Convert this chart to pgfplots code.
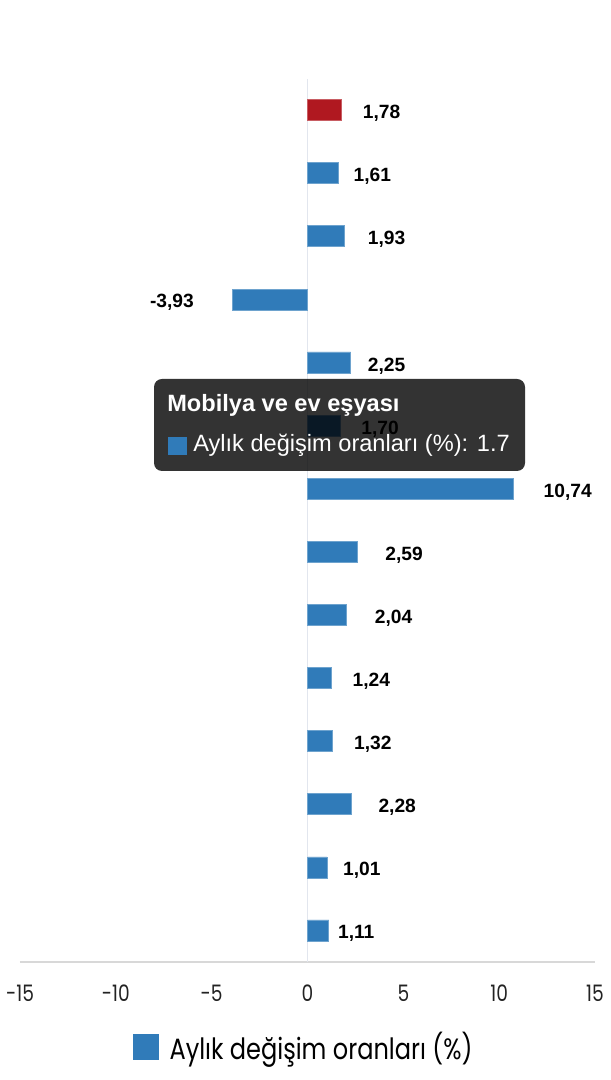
\documentclass[border=0pt]{standalone}
\usepackage{pgfplots}
\pgfplotsset{compat=1.18}
\usepackage{pgfplotstable}
\usepackage{fontspec}
\setmainfont{Liberation Sans}
\newfontfamily\axisfont[FakeStretch=0.82]{Poppins}

\definecolor{barblue}{RGB}{48,123,185}
\definecolor{barred}{RGB}{176,24,32}
\definecolor{zeroline}{RGB}{226,230,238}
\definecolor{axisgray}{RGB}{216,216,216}
\definecolor{ticktext}{RGB}{34,34,34}

% y = row position (13 at top), x = value, gap = label distance from bar end (px)
\pgfplotstableread{
y  x      gap
12 1.61   15
11 1.93   23
9  2.25   17
8  1.70   21
7  10.74  30
6  2.59   28
5  2.04   28
4  1.24   21
3  1.32   21
2  2.28   27
1  1.01   16
0  1.11   9
}\bluebars
\pgfplotstableread{
y  x     gap
13 1.78  21
}\redbar
\pgfplotstableread{
y  x      gap
10 -3.93  38
}\negbar

\begin{document}
\begin{tikzpicture}
\path[use as bounding box] (-15pt,-88.5pt) rectangle (442.5pt,721.5pt);
\begin{axis}[
  scale only axis,
  width=431.25pt, height=662.6pt,
  xmin=-15, xmax=15,
  ymin=-0.5, ymax=13.5,
  xtick={-15,-10,-5,0,5,10,15},
  ytick=\empty,
  axis x line*=bottom,
  axis y line=none,
  x axis line style={color=axisgray, line width=0.8pt},
  major tick length=0pt,
  extra x ticks={0},
  extra x tick labels={},
  extra x tick style={grid=major, major grid style={color=zeroline, line width=1.2pt}},
  /pgf/number format/assume math mode=true,
  x tick label style={font=\axisfont\fontsize{17}{20}\selectfont, text=ticktext, yshift=-13.5pt},
  xbar, bar width=15.75pt, bar shift=0pt,
  point meta=x,
  nodes near coords={\pgfmathprintnumber[fixed,fixed zerofill,precision=2,use comma]{\pgfplotspointmeta}},
  visualization depends on={\thisrow{gap} \as \gap},
  every node near coord/.append style={font=\fontsize{14.4}{16}\selectfont\bfseries, text=black, inner sep=0pt, yshift=-2.5pt},
  legend style={draw=none, fill=none, at={(0.494,-0.096)}, anchor=center,
    font=\axisfont\fontsize{22}{25}\selectfont, text=black},
  legend image code/.code={\fill[barblue] (0pt,-9.4pt) rectangle (18.75pt,9.4pt); \path (25pt,0pt);},
]
\addplot[fill=barblue, draw=barblue!70!white, line width=0.5pt,
  every node near coord/.append style={anchor=west, xshift=\gap*0.75pt}]
  table[x=x, y=y] {\bluebars};
\addlegendentry{Aylık değişim oranları (\%)}
\addplot[forget plot, fill=barred, draw=barred!70!white, line width=0.5pt,
  every node near coord/.append style={anchor=west, xshift=\gap*0.75pt}]
  table[x=x, y=y] {\redbar};
\addplot[forget plot, fill=barblue, draw=barblue!70!white, line width=0.5pt,
  every node near coord/.append style={anchor=east, xshift=-\gap*0.75pt}]
  table[x=x, y=y] {\negbar};
\end{axis}
% tooltip overlay
\fill[black, fill opacity=0.8, rounded corners=6pt] (100.5pt,368.25pt) rectangle (378.75pt,437.25pt);
\node[anchor=base west, inner sep=0pt, text=white, font=\fontsize{17.7}{20}\selectfont\bfseries]
  at (110.25pt,412.5pt) {Mobilya ve ev eşyası};
\fill[barblue] (111pt,380.25pt) rectangle (125.25pt,393.75pt);
\node[anchor=base west, inner sep=0pt, text=white, font=\fontsize{17.7}{20}\selectfont]
  at (129.75pt,382.5pt) {Aylık değişim oranları (\%): 1.7};
\end{tikzpicture}
\end{document}
